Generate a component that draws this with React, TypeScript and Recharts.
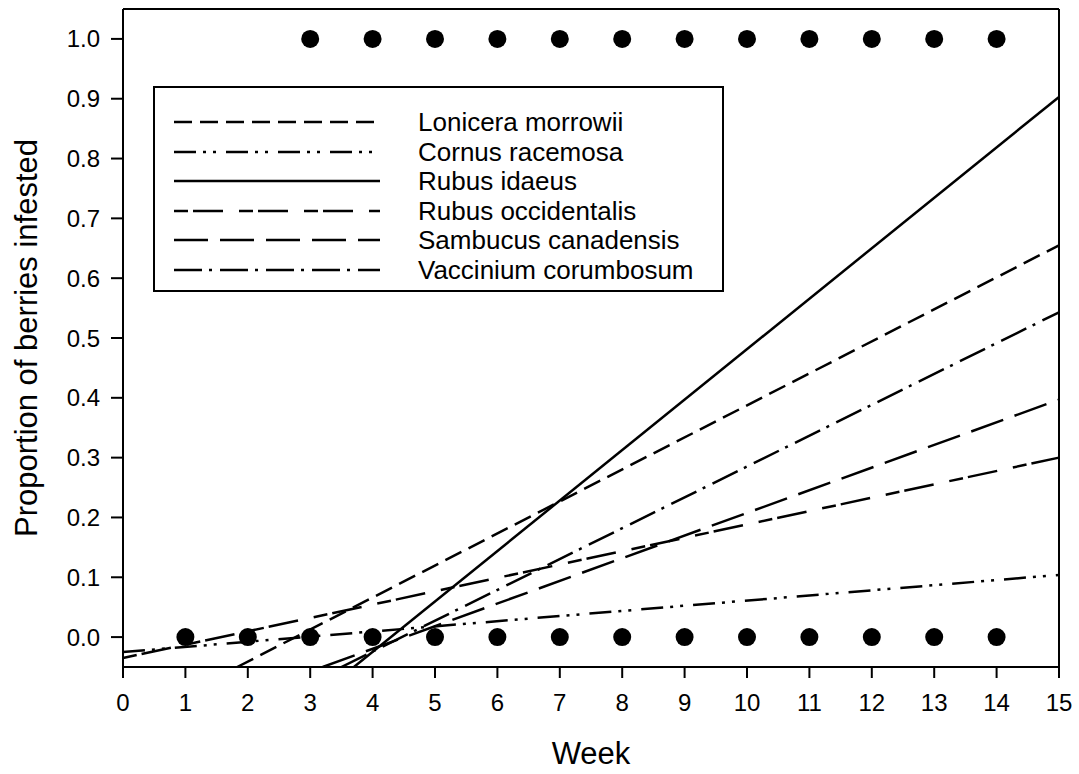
import React from "react";
import {
  ComposedChart,
  Line,
  Scatter,
  XAxis,
  YAxis,
  ReferenceLine,
} from "recharts";

// fitted lines, one entry per species (start / end of each regression line)
const species = [
  "Lonicera morrowii",
  "Cornus racemosa",
  "Rubus idaeus",
  "Rubus occidentalis",
  "Sambucus canadensis",
  "Vaccinium corumbosum",
];
const startWeek = [1.83, 0, 3.7, 0, 3.2, 3.5];
const startValue = [-0.05, -0.025, -0.05, -0.035, -0.05, -0.05];
const endWeek = [15, 15, 15, 15, 15, 15];
const endValue = [0.655, 0.104, 0.903, 0.3, 0.397, 0.543];

// observed berries: infested (1.0) and not infested (0.0)
const infestedWeeks = [3, 4, 5, 6, 7, 8, 9, 10, 11, 12, 13, 14];
const cleanWeeks = [1, 2, 3, 4, 5, 6, 7, 8, 9, 10, 11, 12, 13, 14];

const xTicks = [0, 1, 2, 3, 4, 5, 6, 7, 8, 9, 10, 11, 12, 13, 14, 15];
const yTicks = [0, 0.1, 0.2, 0.3, 0.4, 0.5, 0.6, 0.7, 0.8, 0.9, 1.0];

const dashStyles = [
  "18 8",
  "22 7 3 7 3 10",
  "",
  "14 5 30 16",
  "34 12",
  "28 7 3 8",
];

const FONT = "Arial, 'Liberation Sans', sans-serif";

const fits = species.map((name, i) => ({
  name,
  dash: dashStyles[i],
  points: [
    { week: startWeek[i], value: startValue[i] },
    { week: endWeek[i], value: endValue[i] },
  ],
}));

const infested = infestedWeeks.map((w) => ({ week: w, value: 1.0 }));
const clean = cleanWeeks.map((w) => ({ week: w, value: 0.0 }));

const Dot = (props: any) => <circle cx={props.cx} cy={props.cy} r={9} fill="#000" />;

const YLabel = (props: any) => {
  const { viewBox } = props;
  const x = viewBox.x + 26;
  const y = viewBox.y + viewBox.height / 2;
  return (
    <text
      x={x}
      y={y}
      transform={`rotate(-90, ${x}, ${y})`}
      textAnchor="middle"
      dominantBaseline="central"
      fontSize={31}
      fontFamily={FONT}
      fill="#000"
    >
      Proportion of berries infested
    </text>
  );
};

const XLabel = (props: any) => {
  const { viewBox } = props;
  return (
    <text
      x={viewBox.x + viewBox.width / 2}
      y={764}
      textAnchor="middle"
      fontSize={31}
      fontFamily={FONT}
      fill="#000"
    >
      Week
    </text>
  );
};

const LegendBox = () => (
  <div
    style={{
      position: "absolute",
      left: 153,
      top: 86,
      width: 567,
      height: 202,
      border: "2px solid #000",
      background: "#fff",
      fontFamily: FONT,
      fontSize: 26,
    }}
  >
    {fits.map((f, i) => (
      <div
        key={f.name}
        style={{
          position: "absolute",
          left: 0,
          top: 20 + i * 29.6,
          height: 28,
          width: "100%",
        }}
      >
        <svg width={230} height={28} style={{ position: "absolute", left: 17, top: 0 }}>
          <line
            x1={2}
            y1={14}
            x2={208}
            y2={14}
            stroke="#000"
            strokeWidth={2.5}
            strokeDasharray={f.dash || undefined}
          />
        </svg>
        <span
          style={{
            position: "absolute",
            left: 263,
            top: 14,
            transform: "translateY(-50%)",
            lineHeight: "28px",
            whiteSpace: "nowrap",
          }}
        >
          {f.name}
        </span>
      </div>
    ))}
  </div>
);

export default function App() {
  return (
    <div style={{ position: "absolute", left: 0, top: 0, width: 1079, height: 774 }}>
      <ComposedChart
        width={1079}
        height={774}
        margin={{ top: 9, right: 20, bottom: 0, left: 0 }}
      >
        <XAxis
          type="number"
          dataKey="week"
          domain={[0, 15]}
          ticks={xTicks}
          interval={0}
          height={107}
          tickSize={11}
          tickMargin={16}
          axisLine={{ stroke: "#000", strokeWidth: 2 }}
          tickLine={{ stroke: "#000", strokeWidth: 2 }}
          tick={{ fill: "#000", fontSize: 24, fontFamily: FONT }}
          label={<XLabel />}
        />
        <YAxis
          type="number"
          dataKey="value"
          domain={[-0.05, 1.05]}
          allowDataOverflow
          ticks={yTicks}
          interval={0}
          width={123}
          tickSize={12}
          tickMargin={11}
          tickFormatter={(v: number) => v.toFixed(1)}
          axisLine={{ stroke: "#000", strokeWidth: 2 }}
          tickLine={{ stroke: "#000", strokeWidth: 2 }}
          tick={{ fill: "#000", fontSize: 24, fontFamily: FONT }}
          label={<YLabel />}
        />
        <ReferenceLine y={1.05} stroke="#000" strokeWidth={2} />
        <ReferenceLine x={15} stroke="#000" strokeWidth={2} />
        {fits.map((f) => (
          <Line
            key={f.name}
            data={f.points}
            dataKey="value"
            name={f.name}
            stroke="#000"
            strokeWidth={2.5}
            strokeDasharray={f.dash || undefined}
            dot={false}
            activeDot={false}
            isAnimationActive={false}
          />
        ))}
        <Scatter data={infested} dataKey="value" shape={<Dot />} isAnimationActive={false} />
        <Scatter data={clean} dataKey="value" shape={<Dot />} isAnimationActive={false} />
      </ComposedChart>
      <LegendBox />
    </div>
  );
}
